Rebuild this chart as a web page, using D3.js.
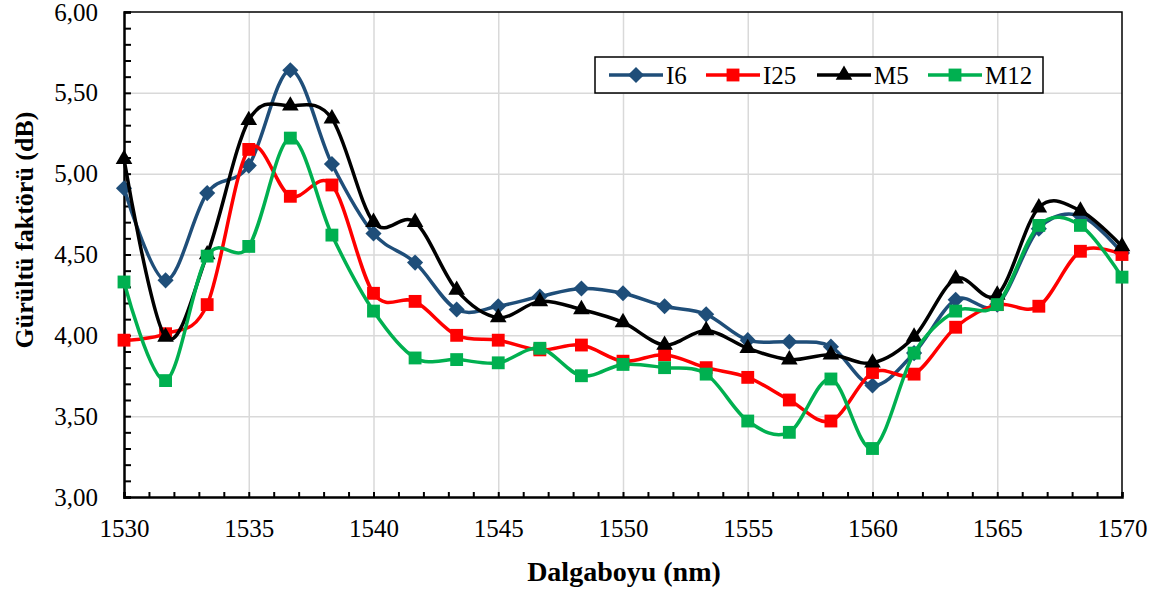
<!DOCTYPE html>
<html>
<head>
<meta charset="utf-8">
<script src="https://cdn.jsdelivr.net/npm/d3@7"></script>
<style>
  body { margin: 0; background: #fff; }
  text { font-family: 'Liberation Serif', 'Times New Roman', serif; }
</style>
</head>
<body>
<svg id="chart" width="1168" height="594"></svg>
<script>
// wavelengths (nm), one sample every 5/3 nm
const wavelengths = d3.range(25).map((i) => 1530 + (i * 40) / 24)

const seriesNames = ['I6', 'I25', 'M5', 'M12']

const i6 = [4.91, 4.34, 4.88, 5.05, 5.64, 5.06, 4.63, 4.45, 4.16, 4.18, 4.24, 4.29, 4.26,
  4.18, 4.13, 3.97, 3.96, 3.93, 3.69, 3.89, 4.22, 4.19, 4.66, 4.74, 4.51]
const i25 = [3.97, 4.01, 4.19, 5.15, 4.86, 4.93, 4.26, 4.21, 4.00, 3.97, 3.91, 3.94, 3.84,
  3.88, 3.80, 3.74, 3.60, 3.47, 3.77, 3.76, 4.05, 4.19, 4.18, 4.52, 4.50]
const m5 = [5.09, 3.99, 4.50, 5.33, 5.42, 5.34, 4.70, 4.70, 4.28, 4.11, 4.21, 4.16, 4.08,
  3.94, 4.03, 3.92, 3.85, 3.88, 3.83, 3.99, 4.35, 4.25, 4.79, 4.77, 4.55]
const m12 = [4.33, 3.72, 4.49, 4.55, 5.22, 4.62, 4.15, 3.86, 3.85, 3.83, 3.92, 3.75, 3.82,
  3.80, 3.76, 3.47, 3.40, 3.73, 3.30, 3.89, 4.15, 4.19, 4.68, 4.68, 4.36]

const xTicks = d3.range(1530, 1571, 1)
const yTicks = d3.range(30, 61, 1).map((d) => d / 10)

const colors = ['#1F4E79', '#FF0000', '#000000', '#00B050']
const symbols = ['diamond', 'square', 'triangle', 'square']

const svg = d3.select('#chart')

const plot = { left: 124, right: 1122, top: 12, bottom: 497 }

const x = d3.scaleLinear().domain([1530, 1570]).range([plot.left, plot.right])
const y = d3.scaleLinear().domain([3, 6]).range([plot.bottom, plot.top])

const fmt = (d) => d3.format('.2f')(d).replace('.', ',')

// gridlines
svg.append('g')
  .attr('transform', `translate(0, ${plot.bottom})`)
  .call(d3.axisBottom(x).tickValues(d3.range(1535, 1570, 5)).tickSize(-(plot.bottom - plot.top)).tickFormat(''))
  .call((g) => g.select('.domain').remove())
  .call((g) => g.selectAll('line').attr('stroke', '#D9D9D9').attr('stroke-width', 1.5))

svg.append('g')
  .attr('transform', `translate(${plot.left}, 0)`)
  .call(d3.axisLeft(y).tickValues([3.5, 4, 4.5, 5, 5.5]).tickSize(-(plot.right - plot.left)).tickFormat(''))
  .call((g) => g.select('.domain').remove())
  .call((g) => g.selectAll('line').attr('stroke', '#D9D9D9').attr('stroke-width', 1.5))

// top and right border
svg.append('path')
  .attr('d', `M${plot.left},${plot.top}H${plot.right}V${plot.bottom}`)
  .attr('fill', 'none')
  .attr('stroke', '#000')
  .attr('stroke-width', 1.5)

// axes
const yAxis = svg.append('g')
  .attr('transform', `translate(${plot.left}, 0)`)
  .call(d3.axisLeft(y).tickValues(yTicks).tickSize(-7).tickPadding(26)
    .tickFormat((d) => (Math.round(d * 10) % 5 === 0 ? fmt(d) : '')))
yAxis.selectAll('text').style('font-size', '25px').attr('fill', '#000')
yAxis.selectAll('line').attr('stroke-width', 2)
yAxis.select('.domain').attr('stroke-width', 2.5)

const xAxis = svg.append('g')
  .attr('transform', `translate(0, ${plot.bottom})`)
  .call(d3.axisBottom(x).tickValues(xTicks).tickSize(-5).tickPadding(22)
    .tickFormat((d) => (d % 5 === 0 ? d : '')))
xAxis.selectAll('text').style('font-size', '25px').attr('fill', '#000')
xAxis.selectAll('line').attr('stroke-width', 2)
xAxis.select('.domain').attr('stroke-width', 2.5)

// axis titles
svg.append('text')
  .attr('text-anchor', 'middle')
  .attr('x', 624)
  .attr('y', 581)
  .style('font-size', '28px')
  .style('font-weight', 'bold')
  .text('Dalgaboyu (nm)')

svg.append('text')
  .attr('text-anchor', 'middle')
  .attr('transform', 'translate(33, 230) rotate(-90)')
  .style('font-size', '26px')
  .style('font-weight', 'bold')
  .text('Gürültü faktörü (dB)')

// series
function marker(type) {
  if (type === 'triangle') return d3.symbol().type(d3.symbolTriangle).size(120)()
  if (type === 'diamond') return d3.symbol().type(d3.symbolSquare).size(130)()
  return d3.symbol().type(d3.symbolSquare).size(165)()
}

const line = d3.line()
  .x((d) => x(d.w))
  .y((d) => y(d.v))
  .curve(d3.curveCatmullRom.alpha(0))

;[i6, i25, m5, m12].forEach((values, s) => {
  const pts = values.map((v, i) => ({ w: wavelengths[i], v }))
  const g = svg.append('g')
  g.append('path')
    .datum(pts)
    .attr('fill', 'none')
    .attr('stroke', colors[s])
    .attr('stroke-width', 3.5)
    .attr('d', line)
  g.selectAll('.pt')
    .data(pts)
    .enter()
    .append('path')
    .attr('class', 'pt')
    .attr('d', marker(symbols[s]))
    .attr('transform', (d) => `translate(${x(d.w)}, ${y(d.v)})${symbols[s] === 'diamond' ? ' rotate(45)' : ''}`)
    .attr('fill', colors[s])
})

// legend
const legend = svg.append('g')
legend.append('rect')
  .attr('x', 595).attr('y', 57).attr('width', 448).attr('height', 36)
  .attr('fill', '#fff').attr('stroke', '#000').attr('stroke-width', 1.5)

const legendX = [609, 706, 817, 928]
seriesNames.forEach((name, s) => {
  const lx = legendX[s]
  legend.append('line')
    .attr('x1', lx).attr('x2', lx + 54).attr('y1', 75).attr('y2', 75)
    .attr('stroke', colors[s]).attr('stroke-width', 3.5)
  legend.append('path')
    .attr('d', marker(symbols[s]))
    .attr('transform', `translate(${lx + 27}, 75)${symbols[s] === 'diamond' ? ' rotate(45)' : ''}`)
    .attr('fill', colors[s])
  legend.append('text')
    .attr('x', lx + 57)
    .attr('y', 84)
    .style('font-size', '25px')
    .text(name)
})
</script>
</body>
</html>
